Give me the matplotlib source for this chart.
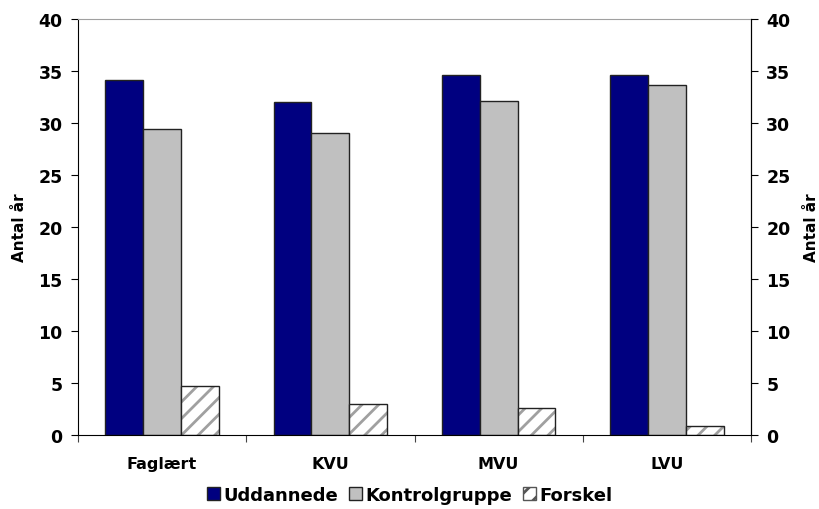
import matplotlib.pyplot as plt
import numpy as np
from matplotlib.patches import Patch

categories = ['Faglært', 'KVU', 'MVU', 'LVU']
uddannede = [34.1, 32.0, 34.6, 34.6]
kontrolgruppe = [29.4, 29.0, 32.1, 33.7]
forskel = [4.7, 3.0, 2.6, 0.9]

plt.rcParams['font.family'] = 'DejaVu Sans'
plt.rcParams['font.weight'] = 'bold'
plt.rcParams['hatch.linewidth'] = 2.0

fig = plt.figure(figsize=(8.2, 5.1), dpi=100)
ax = fig.add_axes([0.0951, 0.1451, 0.8208, 0.8157])

x = np.arange(len(categories))
w = 0.225
ax.bar(x - w, uddannede, w, color='#000080', edgecolor='#222222', linewidth=1)
ax.bar(x, kontrolgruppe, w, color='#c0c0c0', edgecolor='#222222', linewidth=1)
# hatched bars: gray stripes first, then the dark outline on top
ax.bar(x + w, forskel, w, color='white', edgecolor='#a0a0a0', hatch='//', linewidth=0)
ax.bar(x + w, forskel, w, fill=False, edgecolor='#222222', linewidth=1)

ax.set_xlim(-0.5, len(categories) - 0.5)
ax.set_ylim(0, 40)
ax.set_yticks(range(0, 41, 5))
ax.set_xticks(np.arange(-0.5, len(categories), 1.0))
ax.set_xticklabels([])
ax.set_xticks(x, minor=True)
ax.set_xticklabels(categories, minor=True, fontsize=11.5, fontweight='bold')
ax.tick_params(axis='x', which='minor', length=0, pad=15)
ax.tick_params(axis='x', which='major', length=5, direction='out', color='#444444')
ax.tick_params(axis='y', labelsize=12.5, length=5, direction='out', pad=6)

ax.spines['top'].set_color('#a0a0a0')
for s in ['left', 'right', 'bottom']:
    ax.spines[s].set_color('black')
ax.set_ylabel('Antal år', fontsize=11, fontweight='bold', labelpad=8)

ax2 = ax.twinx()
ax2.set_ylim(0, 40)
ax2.set_yticks(range(0, 41, 5))
ax2.tick_params(axis='y', labelsize=12.5, length=5, direction='out', pad=6)
ax2.set_ylabel('Antal år', fontsize=11, fontweight='bold', rotation=90, labelpad=10)
for s in ['top', 'left', 'bottom']:
    ax2.spines[s].set_visible(False)
ax2.spines['right'].set_color('black')

handles = [Patch(facecolor='#000080', edgecolor='#222222'),
           Patch(facecolor='#c0c0c0', edgecolor='#222222'),
           Patch(facecolor='white', edgecolor='#555555', hatch='//')]
fig.legend(handles, ['Uddannede', 'Kontrolgruppe', 'Forskel'], loc='lower center',
           bbox_to_anchor=(0.5, -0.022), ncol=3, frameon=False, fontsize=13,
           handlelength=0.7, handleheight=0.7, handletextpad=0.2, columnspacing=0.6)

plt.savefig('out.png', dpi=100)
